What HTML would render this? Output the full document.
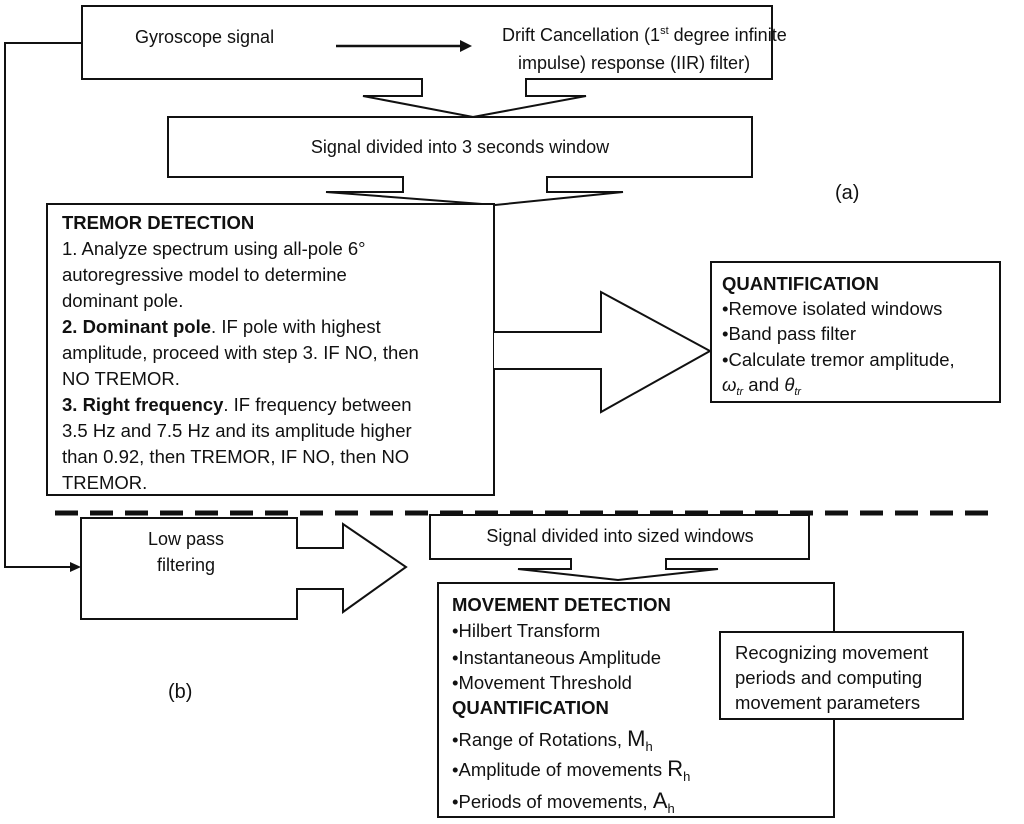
<!DOCTYPE html>
<html><head><meta charset="utf-8"><style>
body{margin:0;background:#fff}
svg{display:block}
text{font-family:"Liberation Sans",Arial,sans-serif;fill:#111}
.t{font-size:18.5px}
.s{font-size:18px}
.b{font-weight:bold}
</style></head><body>
<svg width="1024" height="824" viewBox="0 0 1024 824" xmlns="http://www.w3.org/2000/svg">
<g fill="#fff" stroke="#111" stroke-width="2" stroke-linejoin="miter">
<path d="M82 6 H772 V79 H526 V96 H586 L473 117 L363 96 H422 V79 H82 Z"/>
<path d="M168 117 H752 V177 H547 V192 H623 L495 205 L326 192 H403 V177 H168 Z"/>
<rect x="47" y="204" width="447" height="291"/>
<path d="M494 332 H601 V292 L710 351 L601 412 V369 H494"/>
<rect x="711" y="262" width="289" height="140"/>
<path d="M81 518 H297 V548 H343 V524 L406 567 L343 612 V589 H297 V619 H81 Z"/>
<path d="M430 515 H809 V559 H666 V569 H718 L618 580 L518 569 H571 V559 H430 Z"/>
<rect x="438" y="583" width="396" height="234"/>
<rect x="720" y="632" width="243" height="87"/>
</g>
<path d="M82 43 H5 V567 H72" fill="none" stroke="#111" stroke-width="2"/>
<polygon points="81,567 70,562 70,572" fill="#111"/>
<line x1="336" y1="46" x2="462" y2="46" stroke="#111" stroke-width="2.5"/>
<polygon points="472,46 460,40 460,52" fill="#111"/>
<line x1="55" y1="513" x2="1000" y2="513" stroke="#111" stroke-width="5" stroke-dasharray="23 12"/>

<text class="s" x="135" y="43">Gyroscope signal</text>
<text class="s" x="502" y="41">Drift Cancellation (1<tspan font-size="11" dy="-7">st</tspan><tspan dy="7"> degree infinite</tspan></text>
<text class="s" x="518" y="69">impulse) response (IIR) filter)</text>
<text class="s" x="460" y="153" text-anchor="middle">Signal divided into 3 seconds window</text>
<text x="835" y="199" style="font-size:20px">(a)</text>

<text class="t b" x="62" y="229">TREMOR DETECTION</text>
<text class="t" x="62" y="255">1. Analyze spectrum using all-pole 6°</text>
<text class="t" x="62" y="281">autoregressive model to determine</text>
<text class="t" x="62" y="307">dominant pole.</text>
<text class="t" x="62" y="333"><tspan class="b">2. Dominant pole</tspan>. IF pole with highest</text>
<text class="t" x="62" y="359">amplitude, proceed with step 3. IF NO, then</text>
<text class="t" x="62" y="385">NO TREMOR.</text>
<text class="t" x="62" y="411"><tspan class="b">3. Right frequency</tspan>. IF frequency between</text>
<text class="t" x="62" y="437">3.5 Hz and 7.5 Hz and its amplitude higher</text>
<text class="t" x="62" y="463">than 0.92, then TREMOR, IF NO, then NO</text>
<text class="t" x="62" y="489">TREMOR.</text>

<text class="t b" x="722" y="290">QUANTIFICATION</text>
<text class="t" x="722" y="315">•Remove isolated windows</text>
<text class="t" x="722" y="340">•Band pass filter</text>
<text class="t" x="722" y="366">•Calculate tremor amplitude,</text>
<text class="t" x="722" y="391"><tspan font-style="italic">ω</tspan><tspan font-size="11" dy="4" font-style="italic">tr</tspan><tspan dy="-4"> and </tspan><tspan font-style="italic">θ</tspan><tspan font-size="11" dy="4" font-style="italic">tr</tspan></text>

<text class="s" x="186" y="545" text-anchor="middle">Low pass</text>
<text class="s" x="186" y="571" text-anchor="middle">filtering</text>
<text class="s" x="620" y="542" text-anchor="middle">Signal divided into sized windows</text>

<text class="t b" x="452" y="611">MOVEMENT DETECTION</text>
<text class="t" x="452" y="637">•Hilbert Transform</text>
<text class="t" x="452" y="664">•Instantaneous Amplitude</text>
<text class="t" x="452" y="689">•Movement Threshold</text>
<text class="t b" x="452" y="714">QUANTIFICATION</text>
<text class="t" x="452" y="746">•Range of Rotations, <tspan font-size="22">M</tspan><tspan font-size="13" dy="5">h</tspan></text>
<text class="t" x="452" y="776">•Amplitude  of movements <tspan font-size="22">R</tspan><tspan font-size="13" dy="5">h</tspan></text>
<text class="t" x="452" y="808">•Periods of movements, <tspan font-size="22">A</tspan><tspan font-size="13" dy="5">h</tspan></text>

<text class="t" x="735" y="659">Recognizing movement</text>
<text class="t" x="735" y="684">periods and computing</text>
<text class="t" x="735" y="709">movement parameters</text>
<text x="168" y="698" style="font-size:20px">(b)</text>
</svg>
</body></html>
